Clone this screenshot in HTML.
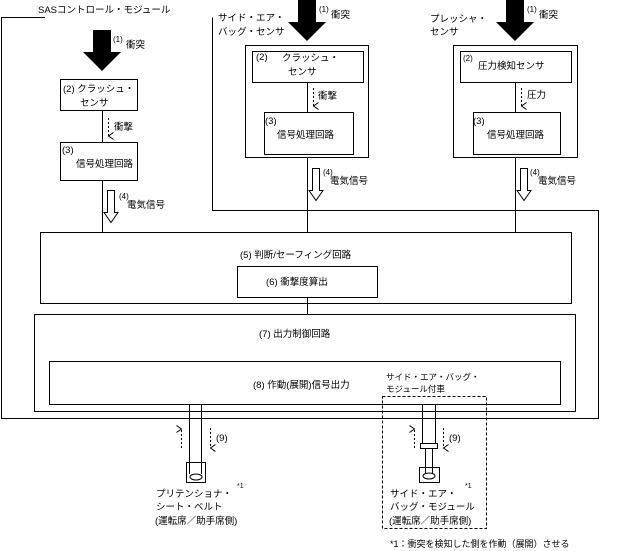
<!DOCTYPE html>
<html><head><meta charset="utf-8"><style>
html,body{margin:0;padding:0;background:#fff;}
svg{display:block;font-family:"Liberation Sans","Noto Sans CJK JP",sans-serif;font-size:9.5px;fill:#000;}
</style></head><body>
<svg width="624" height="551" viewBox="0 0 624 551" xmlns="http://www.w3.org/2000/svg">
<defs>
<marker id="da" markerWidth="8" markerHeight="8" refX="4" refY="6" orient="auto" markerUnits="userSpaceOnUse"><path d="M0.5,1 L4,6 L7.5,1" fill="none" stroke="#000" stroke-width="1"/></marker>
</defs>
<g fill="none" stroke="#000" stroke-width="1">
<!-- SAS outline -->
<polyline points="45,17.5 1.5,17.5 1.5,418.5 598.5,418.5 598.5,210.5 212.5,210.5 212.5,17.5"/>
<!-- left column -->
<rect x="60.5" y="79.5" width="77" height="31"/>
<rect x="60.5" y="142.5" width="77" height="38"/>
<line x1="102.5" y1="110" x2="102.5" y2="142"/>
<line x1="102.5" y1="180" x2="102.5" y2="232"/>
<line x1="108.5" y1="118" x2="108.5" y2="136" stroke-dasharray="2,2" marker-end="url(#da)"/>
<!-- side air bag sensor -->
<rect x="245.5" y="45.5" width="123" height="112"/>
<rect x="252.5" y="51.5" width="111" height="31"/>
<rect x="264.5" y="112.5" width="89" height="42"/>
<line x1="307.5" y1="82" x2="307.5" y2="112"/>
<line x1="307.5" y1="157" x2="307.5" y2="232"/>
<line x1="313.5" y1="88" x2="313.5" y2="106" stroke-dasharray="2,2" marker-end="url(#da)"/>
<!-- pressure sensor -->
<rect x="453.5" y="45.5" width="124" height="112"/>
<rect x="460.5" y="51.5" width="111" height="31"/>
<rect x="473.5" y="112.5" width="87" height="42"/>
<line x1="515.5" y1="82" x2="515.5" y2="112"/>
<line x1="515.5" y1="157" x2="515.5" y2="232"/>
<line x1="521.5" y1="88" x2="521.5" y2="106" stroke-dasharray="2,2" marker-end="url(#da)"/>
<!-- hollow arrows -->
<path d="M107.5,190.5 h7 v22 h3.5 l-7,10 l-7,-10 h3.5 z"/>
<path d="M312.5,168.5 h7 v22 h3.5 l-7,10 l-7,-10 h3.5 z"/>
<path d="M520.5,168.5 h7 v22 h3.5 l-7,10 l-7,-10 h3.5 z"/>
<!-- main boxes -->
<rect x="40.5" y="232.5" width="531" height="71"/>
<rect x="237.5" y="266.5" width="140" height="31"/>
<line x1="307.5" y1="297" x2="307.5" y2="314"/>
<rect x="34.5" y="314.5" width="541" height="97"/>
<rect x="49.5" y="361.5" width="511" height="43"/>
<!-- outputs -->
<line x1="189.5" y1="404" x2="189.5" y2="474"/>
<line x1="201.5" y1="404" x2="201.5" y2="474"/>
<rect x="186.5" y="462.5" width="19" height="20"/>
<line x1="422.5" y1="404" x2="422.5" y2="443"/>
<line x1="435.5" y1="404" x2="435.5" y2="443"/>
<rect x="420.5" y="443.5" width="17" height="5"/>
<line x1="425.5" y1="448" x2="425.5" y2="474"/>
<line x1="432.5" y1="448" x2="432.5" y2="474"/>
<rect x="419.5" y="467.5" width="20" height="15"/>
<rect x="382.5" y="396.5" width="104" height="132" stroke-dasharray="3,2"/>
<line x1="181.5" y1="448" x2="181.5" y2="429" stroke-dasharray="2,2" marker-end="url(#da)"/>
<line x1="210.5" y1="428" x2="210.5" y2="448" stroke-dasharray="2,2" marker-end="url(#da)"/>
<line x1="414.5" y1="448" x2="414.5" y2="429" stroke-dasharray="2,2" marker-end="url(#da)"/>
<line x1="443.5" y1="428" x2="443.5" y2="448" stroke-dasharray="2,2" marker-end="url(#da)"/>
<ellipse cx="196" cy="477" rx="6" ry="3"/>
<ellipse cx="429" cy="476" rx="6" ry="3"/>
</g>
<!-- thick arrows -->
<path d="M93,30 h18 v22 h10 l-19,19 l-19,-19 h10 z" fill="#000"/>
<path d="M298,0 h18 v22 h10 l-19,19 l-19,-19 h10 z" fill="#000"/>
<path d="M506,0 h18 v22 h10 l-19,19 l-19,-19 h10 z" fill="#000"/>
<!-- text -->
<text x="38" y="13">SASコントロール・モジュール</text>
<text x="113" y="42" font-size="8">(1)</text><text x="126" y="48">衝突</text>
<text x="63" y="92">(2) クラッシュ・</text><text x="80" y="106">センサ</text>
<text x="114" y="130">衝撃</text>
<text x="62" y="153">(3)</text><text x="76" y="167">信号処理回路</text>
<text x="119" y="199" font-size="8">(4)</text><text x="127" y="208">電気信号</text>
<text x="218" y="21">サイド・エア・</text><text x="218" y="35">バッグ・センサ</text>
<text x="319" y="12" font-size="8">(1)</text><text x="331" y="18">衝突</text>
<text x="256" y="60">(2)</text><text x="282" y="61">クラッシュ・</text><text x="288" y="75">センサ</text>
<text x="318" y="99">衝撃</text>
<text x="265" y="124">(3)</text><text x="277" y="138">信号処理回路</text>
<text x="323" y="175" font-size="8">(4)</text><text x="330" y="184">電気信号</text>
<text x="430" y="22">プレッシャ・</text><text x="430" y="35">センサ</text>
<text x="527" y="12" font-size="8">(1)</text><text x="539" y="18">衝突</text>
<text x="463" y="61" font-size="8">(2)</text><text x="478" y="69">圧力検知センサ</text>
<text x="527" y="98">圧力</text>
<text x="473" y="124">(3)</text><text x="487" y="138">信号処理回路</text>
<text x="530" y="175" font-size="8">(4)</text><text x="538" y="184">電気信号</text>
<text x="240" y="258">(5) 判断/セーフィング回路</text>
<text x="266" y="285">(6) 衝撃度算出</text>
<text x="259" y="337">(7) 出力制御回路</text>
<text x="253" y="388">(8) 作動(展開)信号出力</text>
<text x="386" y="380" font-size="8.5">サイド・エア・バッグ・</text><text x="386" y="392" font-size="8.5">モジュール付車</text>
<text x="216" y="441">(9)</text><text x="449" y="441">(9)</text>
<text x="237" y="488" font-size="7">*1</text><text x="465" y="488" font-size="7">*1</text>
<text x="156" y="497">プリテンショナ・</text><text x="156" y="510">シート・ベルト</text><text x="155" y="524">(運転席／助手席側)</text>
<text x="390" y="497">サイド・エア・</text><text x="390" y="510">バッグ・モジュール</text><text x="389" y="524">(運転席／助手席側)</text>
<text x="390" y="547" font-size="9">*1：衝突を検知した側を作動（展開）させる</text>
</svg>
</body></html>
